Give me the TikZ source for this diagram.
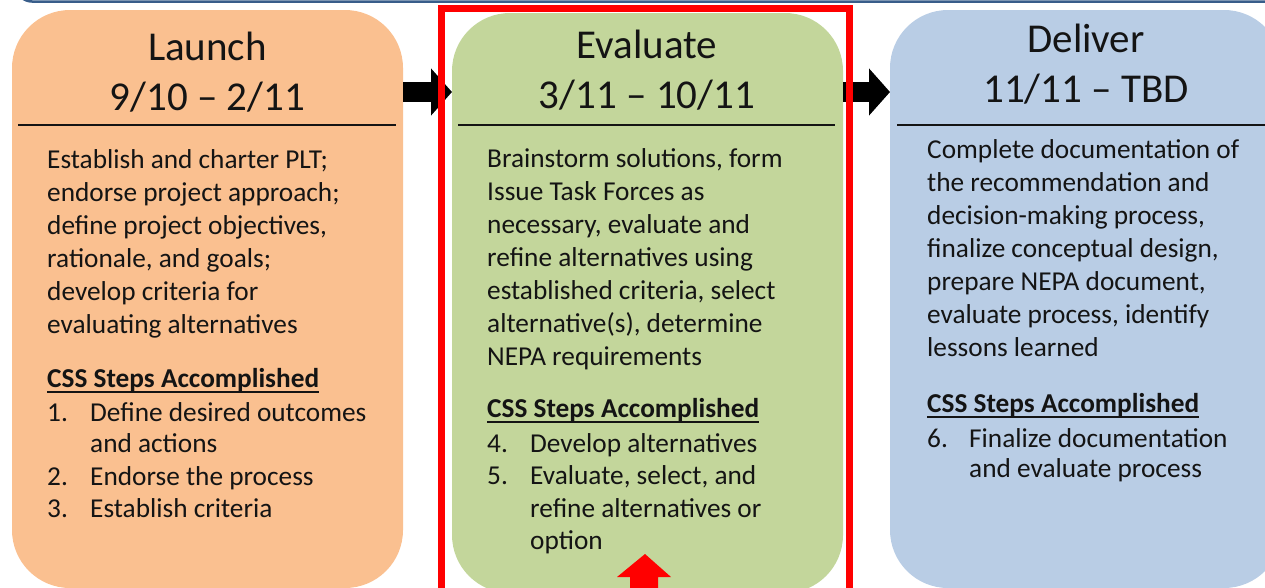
\documentclass[tikz,border=0pt]{standalone}
\usepackage{fontspec}
\setmainfont{Carlito}
\usetikzlibrary{arrows.meta}
\definecolor{orng}{HTML}{FAC090}
\definecolor{grn}{HTML}{C3D69B}
\definecolor{blu}{HTML}{B9CDE5}
\definecolor{barblue}{HTML}{385D8A}
\definecolor{txt}{HTML}{141414}
\begin{document}
\begin{tikzpicture}[x=1pt,y=-1pt,
  phase/.style={rounded corners=58pt, inner sep=0, outer sep=0, anchor=north west, draw=none},
  ttl/.style={font=\fontsize{41}{49}\selectfont, inner sep=0, anchor=base, text=txt},
  body/.style={font=\fontsize{27.3}{33}\selectfont, inner sep=0, anchor=base west, text=txt},
  hdr/.style={font=\fontsize{27.3}{33}\selectfont\bfseries, inner sep=0, anchor=base west, text=txt},
  divider/.style={draw=txt, line width=1.8pt},
  blockarrow/.style={line width=20pt, -{Triangle[width=46pt,length=21pt]}},
]
\useasboundingbox (0,0) rectangle (1265,587);
% top bar (bottom edge of a box above)
\draw[barblue, line width=2.5pt, rounded corners=16pt] (16,-40) rectangle (1320,1.5);

% phase boxes
\node[phase, fill=orng, minimum width=391pt, minimum height=578pt] (launch) at (12,10) {};
\node[phase, fill=grn, minimum width=391pt, minimum height=580pt] (evaluate) at (452,13) {};
\node[phase, fill=blu, minimum width=392pt, minimum height=578pt] (deliver) at (890,10) {};

% block arrows
\coordinate (arow) at (0,92);
\draw[blockarrow] (launch.east |- arow) -- (evaluate.west |- arow);
\draw[blockarrow] (evaluate.east |- arow) -- (deliver.west |- arow);

% ---------- Launch ----------
\node[ttl] (lT) at (207.5,60) {Launch};
\node[ttl] (lD) at (207.5,110) {9/10 – 2/11};
\coordinate (lL) at (18,125); \coordinate (lR) at (396,125);
\draw[divider] (lL) -- (lR);
\node[body] (l1) at (47,168) {Establish and charter PLT;};
\node[body] (l2) at (47,201) {endorse project approach;};
\node[body] (l3) at (47,234) {define project objectives,};
\node[body] (l4) at (47,267) {rationale, and goals;};
\node[body] (l5) at (47,300) {develop criteria for};
\node[body] (l6) at (47,333) {evaluating alternatives};
\node[hdr] (lH) at (47,387) {CSS Steps Accomplished};
\draw[txt, line width=1.6pt] ([yshift=-5pt]lH.base west) -- ([yshift=-5pt]lH.base east);
\node[body] (ln1) at (47,421) {1.};
\node[body] (li1) at (90,421) {Define desired outcomes};
\node[body] (li1b) at (90,452) {and actions};
\node[body] (ln2) at (47,485) {2.};
\node[body] (li2) at (90,485) {Endorse the process};
\node[body] (ln3) at (47,517) {3.};
\node[body] (li3) at (90,517) {Establish criteria};

% ---------- Evaluate ----------
\node[ttl] (eT) at (647,58) {Evaluate};
\node[ttl] (eD) at (647,108) {3/11 – 10/11};
\coordinate (eL) at (458,125); \coordinate (eR) at (835,125);
\draw[divider] (eL) -- (eR);
\node[body] (e1) at (487,167) {Brainstorm solutions, form};
\node[body] (e2) at (487,200) {Issue Task Forces as};
\node[body] (e3) at (487,233) {necessary, evaluate and};
\node[body] (e4) at (487,266) {refine alternatives using};
\node[body] (e5) at (487,299) {established criteria, select};
\node[body] (e6) at (487,332) {alternative(s), determine};
\node[body] (e7) at (487,365) {NEPA requirements};
\node[hdr] (eH) at (487,417) {CSS Steps Accomplished};
\draw[txt, line width=1.6pt] ([yshift=-5pt]eH.base west) -- ([yshift=-5pt]eH.base east);
\node[body] (en4) at (487,452) {4.};
\node[body] (ei4) at (530,452) {Develop alternatives};
\node[body] (en5) at (487,484) {5.};
\node[body] (ei5) at (530,484) {Evaluate, select, and};
\node[body] (ei5b) at (530,517) {refine alternatives or};
\node[body] (ei5c) at (530,549) {option};

% ---------- Deliver ----------
\node[ttl] (dT) at (1086,52) {Deliver};
\node[ttl] (dD) at (1086,102) {11/11 – TBD};
\coordinate (dL) at (897,125); \coordinate (dR) at (1275,125);
\draw[divider] (dL) -- (dR);
\node[body] (d1) at (927,158) {Complete documentation of};
\node[body] (d2) at (927,191) {the recommendation and};
\node[body] (d3) at (927,224) {decision-making process,};
\node[body] (d4) at (927,257) {finalize conceptual design,};
\node[body] (d5) at (927,290) {prepare NEPA document,};
\node[body] (d6) at (927,323) {evaluate process, identify};
\node[body] (d7) at (927,356) {lessons learned};
\node[hdr] (dH) at (927,412) {CSS Steps Accomplished};
\draw[txt, line width=1.6pt] ([yshift=-5pt]dH.base west) -- ([yshift=-5pt]dH.base east);
\node[body] (dn6) at (927,447) {6.};
\node[body] (di6) at (969,447) {Finalize documentation};
\node[body] (di6b) at (969,477) {and evaluate process};

% red highlight frame and pointer
\draw[red, line width=7pt] (441.5,8.5) rectangle (849.5,640);
\fill[red] (645,554) -- (671,577) -- (658,577) -- (658,600) -- (630,600) -- (630,577) -- (617,577) -- cycle;
\end{tikzpicture}
\end{document}
